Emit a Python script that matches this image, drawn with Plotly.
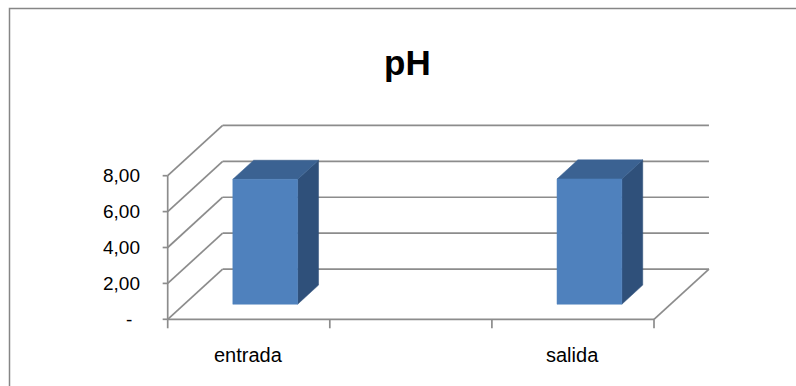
import plotly.graph_objects as go

# Data
categories = ["entrada", "", "salida"]
ph_values = [6.96, None, 6.98]
tick_values = [0, 2, 4, 6, 8]
tick_labels = ["-", "2,00", "4,00", "6,00", "8,00"]
title_text = "pH"

# Oblique projection of the depth axis (in axis units)
DX = 0.339   # horizontal shift for full depth (category units)
DY = 2.80    # vertical shift for full depth (value units)
BAR_W = 0.40
Z0, Z1 = 0.30, 0.68

GRID = "#8c8c8c"
FRONT = "#4f81bd"
TOP = "#3b6292"
SIDE = "#2f507a"

n = len(categories)
fig = go.Figure()


def proj(x, v, z):
    return x + z * DX, v + z * DY


def line(xs, ys, width=1.7):
    fig.add_trace(go.Scatter(x=xs, y=ys, mode="lines",
                             line=dict(color=GRID, width=width),
                             hoverinfo="skip", showlegend=False))


# back wall gridlines and left wall diagonals
for v in tick_values:
    bx0, by = proj(0, v, 1)
    bx1, _ = proj(n, v, 1)
    line([bx0, bx1], [by, by])
    line([0, bx0], [v, by])

# floor: front edge and right edge
fx, fy = proj(n, 0, 1)
line([0, n], [0, 0])
line([n, fx], [0, fy])

# value axis line and outward ticks
line([0, 0], [0, max(tick_values)])
for v in tick_values:
    line([-0.031, 0], [v, v])

# category ticks below floor
for i in range(n + 1):
    line([i, i], [0, -0.5])


def poly(xs, ys, color):
    fig.add_trace(go.Scatter(x=xs + [xs[0]], y=ys + [ys[0]], mode="lines",
                             fill="toself", fillcolor=color,
                             line=dict(color=color, width=0.5),
                             hoverinfo="skip", showlegend=False))


# 3-D style columns
for i, val in enumerate(ph_values):
    if val is None:
        continue
    c = i + 0.5
    x0, x1 = c - BAR_W / 2, c + BAR_W / 2
    a = proj(x0, 0, Z0); b = proj(x1, 0, Z0)
    cc = proj(x1, val, Z0); d = proj(x0, val, Z0)
    e = proj(x1, val, Z1); f = proj(x0, val, Z1); g = proj(x1, 0, Z1)
    # side face
    poly([b[0], cc[0], e[0], g[0]], [b[1], cc[1], e[1], g[1]], SIDE)
    # top face
    poly([d[0], cc[0], e[0], f[0]], [d[1], cc[1], e[1], f[1]], TOP)
    # front face
    poly([a[0], b[0], cc[0], d[0]], [a[1], b[1], cc[1], d[1]], FRONT)

font_fam = "Liberation Sans, Arial, sans-serif"
annotations = []
for v, t in zip(tick_values, tick_labels):
    if t == "-":
        pos, anchor = (129 - 167.7) / 162.1, "center"
    else:
        pos, anchor = -0.159, "right"
    annotations.append(dict(x=pos, y=v, xref="x", yref="y", text=t,
                            showarrow=False, xanchor=anchor, yanchor="middle",
                            font=dict(family=font_fam, size=19, color="#000")))
for i, cat in enumerate(categories):
    if cat:
        annotations.append(dict(x=i + 0.5, y=-1.99, xref="x", yref="y", text=cat,
                                showarrow=False, xanchor="center", yanchor="middle",
                                font=dict(family=font_fam, size=20, color="#000")))
annotations.append(dict(x=(407 - 167.7) / 162.1, y=(319.3 - 62) / 17.95,
                        xref="x", yref="y", text="<b>" + title_text + "</b>",
                        showarrow=False, xanchor="center", yanchor="middle",
                        font=dict(family=font_fam, size=35, color="#000")))

fig.update_layout(
    width=796, height=386,
    margin=dict(l=0, r=0, t=0, b=0),
    paper_bgcolor="white", plot_bgcolor="white",
    xaxis=dict(range=[-167.7 / 162.1, (796 - 167.7) / 162.1], visible=False,
               fixedrange=True),
    yaxis=dict(range=[(319.3 - 386) / 17.95, 319.3 / 17.95], visible=False,
               fixedrange=True),
    annotations=annotations,
    shapes=[dict(type="path", xref="paper", yref="paper",
                 path="M {} 0 L {} {} L 1.01 {}".format(9.5 / 796, 9.5 / 796,
                                                         1 - 8.5 / 386, 1 - 8.5 / 386),
                 line=dict(color="#868686", width=1.5))],
    showlegend=False,
)

fig.write_html("out.html")
